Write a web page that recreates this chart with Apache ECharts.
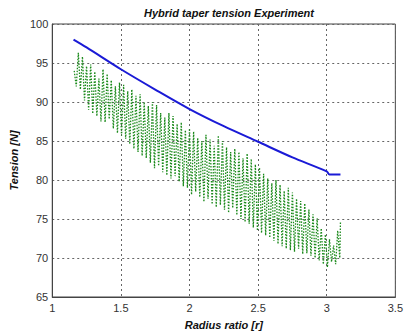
<!DOCTYPE html>
<html>
<head>
<meta charset="utf-8">
<script src="https://cdn.jsdelivr.net/npm/echarts@6/dist/echarts.min.js"></script>
<style>
  html, body { margin: 0; padding: 0; background: #fff; }
  #chart { width: 406px; height: 335px; }
</style>
</head>
<body>
<div id="chart"></div>
<script>
// fitted curve (blue)
const fitRadius = [1.155, 1.25, 1.5, 1.75, 2.0, 2.25, 2.5, 2.75, 3.0, 3.02, 3.1];
const fitTension = [98.0, 97.0, 94.2, 91.6, 89.1, 86.9, 84.9, 82.9, 81.1, 80.7, 80.7];

const expRadius = [
  1.160, 1.175, 1.190, 1.205, 1.220, 1.235, 1.250, 1.265, 1.280, 1.295,
  1.310, 1.325, 1.340, 1.355, 1.370, 1.385, 1.400, 1.415, 1.430, 1.445,
  1.460, 1.475, 1.490, 1.505, 1.520, 1.535, 1.550, 1.565, 1.580, 1.595,
  1.610, 1.625, 1.640, 1.655, 1.670, 1.685, 1.700, 1.715, 1.730, 1.745,
  1.760, 1.775, 1.790, 1.805, 1.820, 1.835, 1.850, 1.865, 1.880, 1.895,
  1.910, 1.925, 1.940, 1.955, 1.970, 1.985, 2.000, 2.015, 2.030, 2.045,
  2.060, 2.075, 2.090, 2.105, 2.120, 2.135, 2.150, 2.165, 2.180, 2.195,
  2.210, 2.225, 2.240, 2.255, 2.270, 2.285, 2.300, 2.315, 2.330, 2.345,
  2.360, 2.375, 2.390, 2.405, 2.420, 2.435, 2.450, 2.465, 2.480, 2.495,
  2.510, 2.525, 2.540, 2.555, 2.570, 2.585, 2.600, 2.615, 2.630, 2.645,
  2.660, 2.675, 2.690, 2.705, 2.720, 2.735, 2.750, 2.765, 2.780, 2.795,
  2.810, 2.825, 2.840, 2.855, 2.870, 2.885, 2.900, 2.915, 2.930, 2.945,
  2.960, 2.975, 2.990, 3.005, 3.020, 3.035, 3.050, 3.065, 3.080, 3.095,
  3.100
];
const expTension = [
  94.0, 92.0, 96.3, 91.6, 95.8, 90.2, 94.6, 89.0, 94.8, 88.5,
  93.9, 88.2, 93.0, 87.5, 94.2, 87.4, 93.6, 87.8, 92.8, 86.6,
  92.0, 86.0, 92.5, 85.7, 92.2, 85.3, 91.4, 84.6, 91.6, 84.0,
  90.8, 83.6, 91.0, 83.1, 90.0, 82.8, 89.5, 82.2, 90.0, 81.5,
  89.6, 81.8, 88.6, 81.0, 88.0, 80.6, 88.6, 80.2, 88.2, 80.5,
  87.2, 79.8, 87.4, 79.2, 86.4, 79.0, 86.6, 78.1, 86.2, 78.5,
  85.4, 77.8, 85.0, 77.2, 85.8, 77.6, 85.2, 76.9, 84.4, 76.5,
  85.7, 76.8, 85.0, 76.2, 84.2, 75.8, 83.6, 76.4, 84.0, 75.5,
  83.6, 75.0, 82.8, 74.6, 83.4, 74.4, 82.7, 73.9, 82.0, 73.5,
  81.6, 73.2, 80.8, 72.9, 80.2, 72.6, 79.6, 72.2, 80.0, 71.8,
  79.4, 71.5, 78.6, 71.2, 79.0, 71.0, 78.4, 70.8, 77.6, 71.2,
  77.3, 70.5, 77.0, 70.6, 76.2, 70.3, 75.6, 70.0, 75.1, 69.7,
  73.8, 69.2, 73.0, 68.8, 72.4, 69.5, 71.6, 69.2, 73.5, 70.0,
  74.6
];

const xTicks = ['1', '1.5', '2', '2.5', '3', '3.5'];

const chart = echarts.init(document.getElementById('chart'), null, { renderer: 'svg' });

const font = 'Liberation Sans, Arial, sans-serif';

chart.setOption({
    animation: false,
    title: {
        text: 'Hybrid taper tension Experiment',
        left: 224,
        textAlign: 'center',
        top: 2,
        textStyle: {
            fontFamily: font,
            fontSize: 11,
            fontStyle: 'italic',
            fontWeight: 'bold',
            color: '#111'
        }
    },
    grid: {
        left: 48,
        right: 5,
        top: 24,
        bottom: 35,
        show: true,
        borderColor: '#444',
        borderWidth: 1,
        backgroundColor: '#fff'
    },
    xAxis: {
        type: 'value',
        min: 1,
        max: 3.5,
        interval: 0.5,
        name: 'Radius ratio [r]',
        nameLocation: 'middle',
        nameGap: 22,
        nameTextStyle: {
            fontFamily: font, fontSize: 11, fontStyle: 'italic', fontWeight: 'bold', color: '#111'
        },
        axisLine: { lineStyle: { color: '#444' } },
        axisTick: { show: false },
        axisLabel: {
            fontFamily: font, fontSize: 11, color: '#333', margin: 5,
            formatter: v => xTicks[Math.round((v - 1) / 0.5)] || ''
        },
        splitLine: { show: true, lineStyle: { color: '#666', type: [2, 3], width: 1 } }
    },
    yAxis: {
        type: 'value',
        min: 65,
        max: 100,
        interval: 5,
        name: 'Tension [N]',
        nameLocation: 'middle',
        nameGap: 28,
        nameTextStyle: {
            fontFamily: font, fontSize: 11, fontStyle: 'italic', fontWeight: 'bold', color: '#111'
        },
        axisLine: { lineStyle: { color: '#444' } },
        axisTick: { show: false },
        axisLabel: { fontFamily: font, fontSize: 11, color: '#333', margin: 4 },
        splitLine: { show: true, lineStyle: { color: '#666', type: [2, 3], width: 1 } }
    },
    series: [
        {
            type: 'line',
            data: expRadius.map((r, i) => [r, expTension[i]]),
            showSymbol: false,
            lineStyle: { color: '#1b8a1b', width: 1.3, type: [1.5, 1.5] },
            z: 2
        },
        {
            type: 'line',
            data: fitRadius.map((r, i) => [r, fitTension[i]]),
            showSymbol: false,
            smooth: 0.3,
            lineStyle: { color: '#1a1ad6', width: 2 },
            z: 3
        }
    ]
});
</script>
</body>
</html>
